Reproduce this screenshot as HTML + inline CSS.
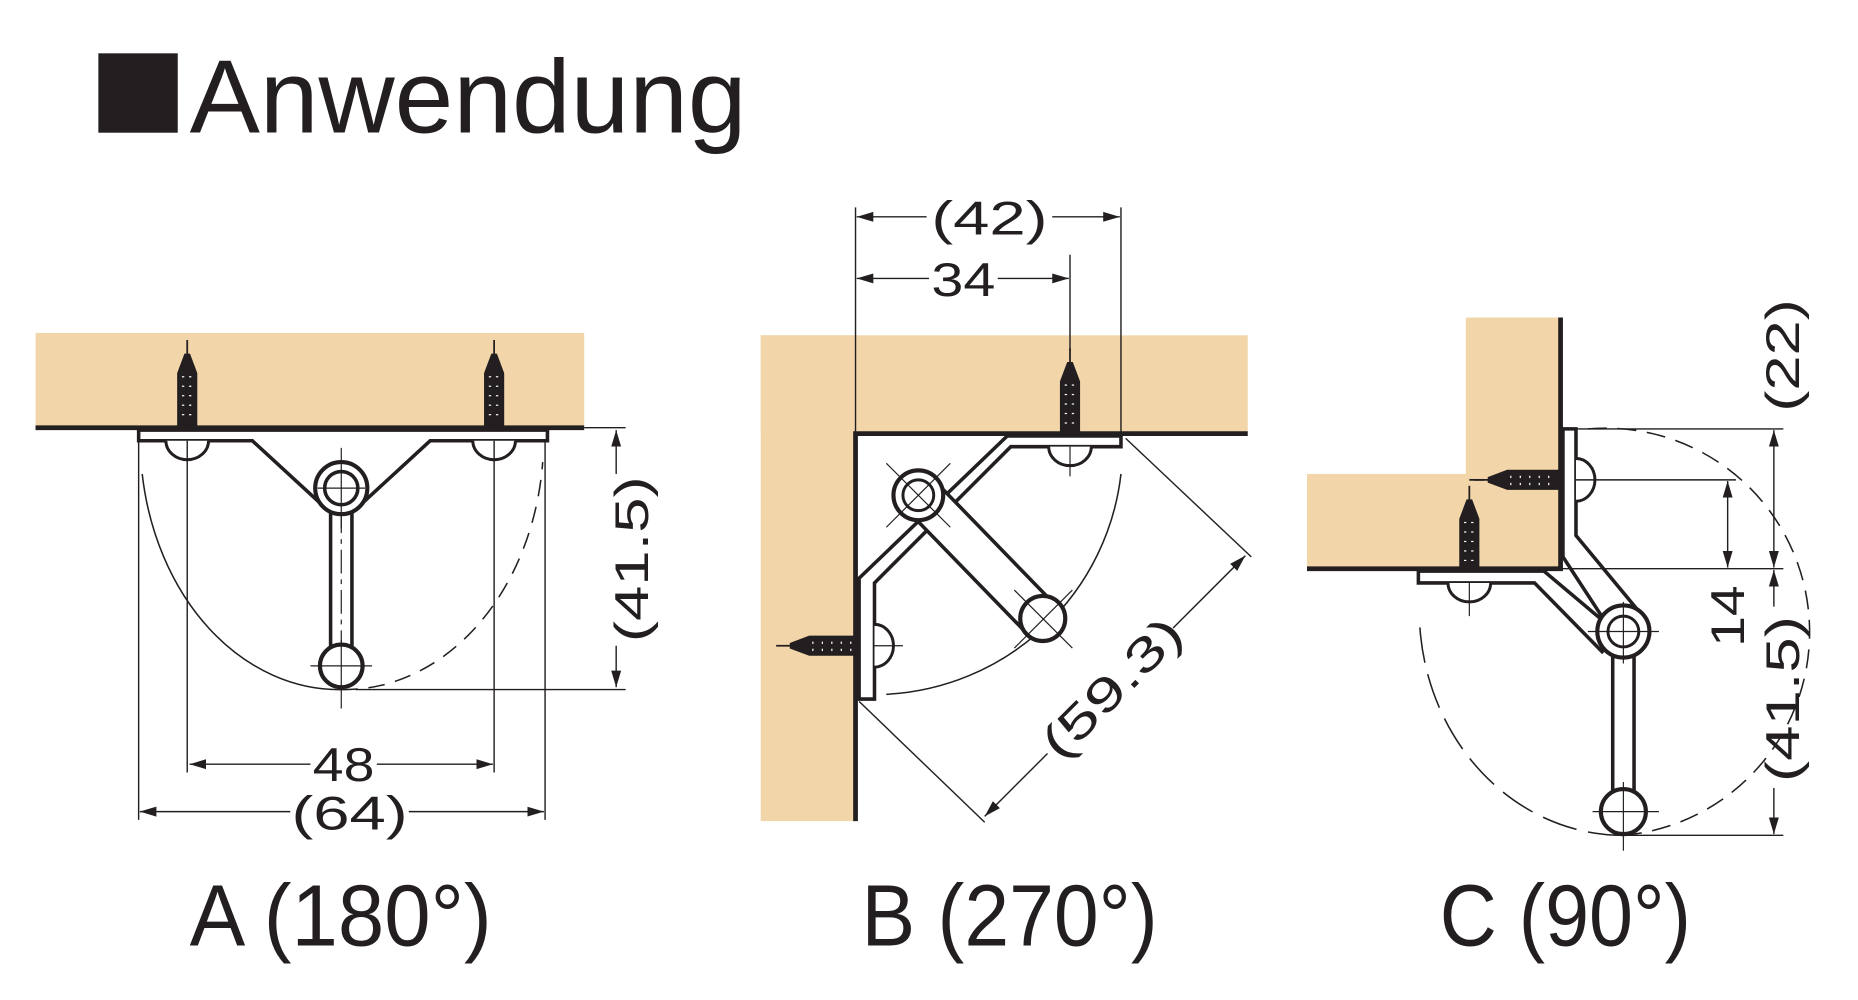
<!DOCTYPE html>
<html><head><meta charset="utf-8"><style>
html,body{margin:0;padding:0;background:#fff;}
svg{display:block;}
text{font-family:"Liberation Sans",sans-serif;fill:#231f20;}
</style></head><body>
<svg width="1858" height="1000" viewBox="0 0 1568 844" preserveAspectRatio="none" xmlns="http://www.w3.org/2000/svg">
<defs>
<marker id="ar" viewBox="0 0 10 10" refX="10" refY="5" markerWidth="14" markerHeight="14" markerUnits="userSpaceOnUse" orient="auto-start-reverse">
<path d="M0,2 L10,5 L0,8 z" fill="#231f20"/>
</marker>
<g id="screw">
<line x1="0" y1="0" x2="0" y2="14" stroke="#231f20" stroke-width="1.5"/>
<path d="M-2,12 L2,12 L8,28 L8,72 L-8,72 L-8,28 Z" fill="#231f20"/>
<g fill="#fff"><rect x="-5" y="30" width="3" height="2"/><rect x="1" y="30" width="3" height="2"/><rect x="-5" y="38" width="3" height="2"/><rect x="1" y="38" width="3" height="2"/><rect x="-5" y="46" width="3" height="2"/><rect x="1" y="46" width="3" height="2"/><rect x="-5" y="54" width="3" height="2"/><rect x="1" y="54" width="3" height="2"/><rect x="-5" y="62" width="3" height="2"/><rect x="1" y="62" width="3" height="2"/></g>
</g>
</defs>

<!-- Title -->
<rect x="83" y="45" width="67" height="67" fill="#231f20"/>
<text x="160" y="112" font-size="88" textLength="470" lengthAdjust="spacingAndGlyphs">Anwendung</text>

<g stroke="#231f20" fill="none">
<!-- ===== A ===== -->
<rect x="30" y="281" width="463" height="79" fill="#f2d6aa" stroke="none"/>
<line x1="30" y1="361" x2="493" y2="361" stroke-width="4"/>
<use href="#screw" x="158" y="287"/>
<use href="#screw" x="417" y="287"/>
<path d="M120,400 A168,212 0 0 0 288,582" stroke-width="1.3"/>
<path d="M288,582 A168,212 0 0 0 458,390" stroke-width="1.3" stroke-dasharray="14,9"/>
<path d="M117,363 L462,363 L462,372 L363,372 L300,430 L276,430 L213,372 L117,372 Z" fill="#fff" stroke-width="3"/>
<path d="M140,372 A18,16 0 0 0 176,372" stroke-width="2.5" fill="#fff"/>
<path d="M399,372 A18,16 0 0 0 435,372" stroke-width="2.5" fill="#fff"/>
<rect x="279" y="420" width="18" height="130" fill="#fff" stroke-width="3"/>
<line x1="288" y1="430" x2="288" y2="545" stroke-width="1" stroke-dasharray="20,5,4,5"/>
<circle cx="288" cy="412" r="22" fill="#fff" stroke-width="3.5"/>
<circle cx="288" cy="412" r="14" stroke-width="3"/>
<circle cx="288" cy="562" r="18" fill="#fff" stroke-width="3.5"/>
<line x1="288" y1="378" x2="288" y2="446" stroke-width="1"/><line x1="268" y1="412" x2="308" y2="412" stroke-width="1"/>
<line x1="288" y1="540" x2="288" y2="598" stroke-width="1"/><line x1="262" y1="562" x2="314" y2="562" stroke-width="1"/>
<g stroke-width="1.2">
<line x1="117" y1="372" x2="117" y2="692"/><line x1="460" y1="372" x2="460" y2="692"/>
<line x1="158" y1="372" x2="158" y2="652"/><line x1="417" y1="372" x2="417" y2="652"/>
<line x1="493" y1="361" x2="528" y2="361"/><line x1="300" y1="582" x2="528" y2="582"/>
<line x1="160" y1="645" x2="262" y2="645" marker-start="url(#ar)"/><line x1="318" y1="645" x2="416" y2="645" marker-end="url(#ar)"/>
<line x1="118" y1="685" x2="245" y2="685" marker-start="url(#ar)"/><line x1="345" y1="685" x2="459" y2="685" marker-end="url(#ar)"/>
<line x1="520" y1="363" x2="520" y2="400" marker-start="url(#ar)"/><line x1="520" y1="545" x2="520" y2="580" marker-end="url(#ar)"/>
</g>

<!-- ===== B ===== -->
<rect x="642" y="283" width="411" height="82" fill="#f2d6aa" stroke="none"/>
<rect x="642" y="283" width="80" height="410" fill="#f2d6aa" stroke="none"/>
<path d="M722,693 L722,366 L1053,366" stroke-width="4"/>
<use href="#screw" x="903" y="294"/>
<use href="#screw" transform="translate(655,545) rotate(-90)"/>
<path d="M946,400 A210,210 0 0 1 748,586" stroke-width="1.3"/>
<path d="M850,368 L946,368 L946,377 L853,377 L738,492 L738,590 L725,590 L725,488 Z" fill="#fff" stroke-width="3"/>
<path d="M885,377 A18,16 0 0 0 921,377" stroke-width="2.5" fill="#fff"/>
<path d="M738,527 A16,18 0 0 1 738,563" stroke-width="2.5" fill="#fff"/>
<path d="M765,430 L866,534 L890,510 L789,406 Z" fill="#fff" stroke-width="3"/>
<circle cx="775" cy="418" r="21" fill="#fff" stroke-width="3.5"/>
<circle cx="775" cy="418" r="13" stroke-width="2.5"/>
<circle cx="880" cy="522" r="19" fill="#fff" stroke-width="3.5"/>
<line x1="748" y1="391" x2="802" y2="445" stroke-width="1"/><line x1="802" y1="391" x2="748" y2="445" stroke-width="1"/>
<line x1="856" y1="498" x2="905" y2="547" stroke-width="1"/><line x1="905" y1="498" x2="856" y2="547" stroke-width="1"/>
<line x1="903" y1="377" x2="903" y2="402" stroke-width="1"/>
<line x1="738" y1="545" x2="762" y2="545" stroke-width="1"/>
<g stroke-width="1.2">
<line x1="722" y1="175" x2="722" y2="366"/><line x1="946" y1="175" x2="946" y2="370"/>
<line x1="903" y1="215" x2="903" y2="296"/>
<line x1="723" y1="183" x2="782" y2="183" marker-start="url(#ar)"/><line x1="888" y1="183" x2="945" y2="183" marker-end="url(#ar)"/>
<line x1="723" y1="235" x2="784" y2="235" marker-start="url(#ar)"/><line x1="842" y1="235" x2="902" y2="235" marker-end="url(#ar)"/>
<line x1="950" y1="370" x2="1056" y2="470"/><line x1="725" y1="592" x2="831" y2="694"/>
<line x1="1051" y1="469" x2="990" y2="530" marker-start="url(#ar)"/><line x1="884" y1="636" x2="831" y2="689" marker-end="url(#ar)"/>
</g>

<!-- ===== C ===== -->
<rect x="1237" y="268" width="79" height="212" fill="#f2d6aa" stroke="none"/>
<rect x="1103" y="400" width="213" height="80" fill="#f2d6aa" stroke="none"/>
<path d="M1317,268 L1317,480 L1103,480" stroke-width="4"/>
<use href="#screw" x="1240" y="410"/>
<use href="#screw" transform="translate(1244,405) rotate(-90)" />
<line x1="1240" y1="405" x2="1252" y2="405" stroke-width="1.5"/>
<path d="M1340,362 A172,172 0 0 1 1370,705" stroke-width="1.3" stroke-dasharray="16,9"/>
<path d="M1370,705 A172,190 0 0 1 1198,525" stroke-width="1.3" stroke-dasharray="30,10"/>
<path d="M1319,362 L1330,362 L1330,452 L1388,522 L1366,542 L1319,470 Z" fill="#fff" stroke-width="3"/>
<path d="M1197,482 L1303,482 L1366,535 L1352,550 L1295,492 L1197,492 Z" fill="#fff" stroke-width="3"/>
<path d="M1330,387 A16,18 0 0 1 1330,423" stroke-width="2.5" fill="#fff"/>
<path d="M1222,492 A18,16 0 0 0 1258,492" stroke-width="2.5" fill="#fff"/>
<line x1="1240" y1="492" x2="1240" y2="520" stroke-width="1"/>
<rect x="1361" y="545" width="18" height="125" fill="#fff" stroke-width="3"/>
<circle cx="1370" cy="533" r="22" fill="#fff" stroke-width="3.5"/>
<circle cx="1370" cy="533" r="13" stroke-width="2.5"/>
<circle cx="1370" cy="685" r="19" fill="#fff" stroke-width="3.5"/>
<line x1="1370" y1="508" x2="1370" y2="560" stroke-width="1"/><line x1="1340" y1="533" x2="1400" y2="533" stroke-width="1"/>
<line x1="1370" y1="660" x2="1370" y2="718" stroke-width="1"/><line x1="1344" y1="685" x2="1400" y2="685" stroke-width="1"/>
<g stroke-width="1.2">
<line x1="1330" y1="362" x2="1505" y2="362"/><line x1="1330" y1="405" x2="1465" y2="405"/>
<line x1="1317" y1="480" x2="1505" y2="480"/><line x1="1372" y1="705" x2="1505" y2="705"/>
<line x1="1497" y1="363" x2="1497" y2="479" marker-start="url(#ar)" marker-end="url(#ar)"/>
<line x1="1458" y1="406" x2="1458" y2="479" marker-start="url(#ar)" marker-end="url(#ar)"/>
<line x1="1497" y1="481" x2="1497" y2="512" marker-start="url(#ar)"/><line x1="1497" y1="665" x2="1497" y2="704" marker-end="url(#ar)"/>
</g>
</g>

<g font-size="40">
<text x="290" y="659" text-anchor="middle" textLength="52" lengthAdjust="spacingAndGlyphs">48</text>
<text x="295" y="700" text-anchor="middle" textLength="98" lengthAdjust="spacingAndGlyphs">(64)</text>
<text transform="translate(547,472) rotate(-90)" text-anchor="middle" textLength="140" lengthAdjust="spacingAndGlyphs">(41.5)</text>
<text x="835" y="198" text-anchor="middle" textLength="98" lengthAdjust="spacingAndGlyphs">(42)</text>
<text x="813" y="250" text-anchor="middle" textLength="54" lengthAdjust="spacingAndGlyphs">34</text>
<text transform="translate(948,590) rotate(-45)" text-anchor="middle" textLength="150" lengthAdjust="spacingAndGlyphs">(59.3)</text>
<text transform="translate(1518,300) rotate(-90)" text-anchor="middle" textLength="95" lengthAdjust="spacingAndGlyphs">(22)</text>
<text transform="translate(1472,520) rotate(-90)" text-anchor="middle" textLength="52" lengthAdjust="spacingAndGlyphs">14</text>
<text transform="translate(1518,590) rotate(-90)" text-anchor="middle" textLength="140" lengthAdjust="spacingAndGlyphs">(41.5)</text>
</g>

<g font-size="74">
<text x="160" y="798" textLength="255" lengthAdjust="spacingAndGlyphs">A (180°)</text>
<text x="727" y="798" textLength="250" lengthAdjust="spacingAndGlyphs">B (270°)</text>
<text x="1215" y="798" textLength="212" lengthAdjust="spacingAndGlyphs">C (90°)</text>
</g>
</svg>
</body></html>
